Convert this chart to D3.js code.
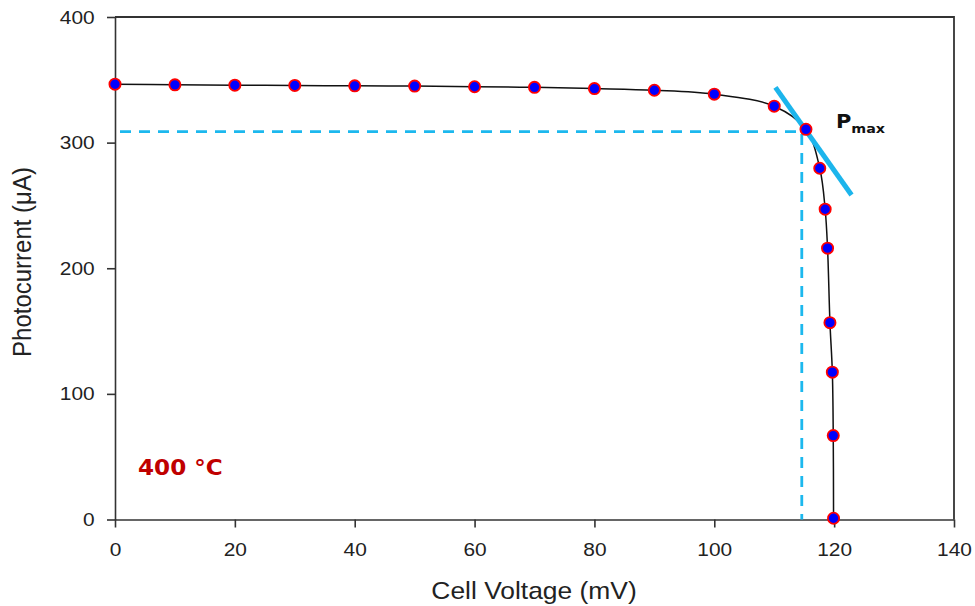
<!DOCTYPE html>
<html>
<head>
<meta charset="utf-8">
<title>Photocurrent vs cell voltage</title>
<style>
body, html {
  margin: 0;
  background: white;
}
svg {
  display: block;
}
.axis path, .axis line {
  stroke: #333;
  stroke-width: 1.6px;
}
.axis text {
  font-family: "Liberation Sans", Arial, sans-serif;
  font-size: 19px;
  fill: #222;
}
.title {
  font-family: "Liberation Sans", Arial, sans-serif;
  font-size: 24px;
  fill: #222;
}
</style>
</head>
<body>
<script src="https://cdn.jsdelivr.net/npm/d3@7"></script>
<script>
// measured points (mV, µA)
var voltage = [0, 10, 20, 30, 40, 50, 60, 70, 80, 90, 100, 110, 115.3, 117.6, 118.5, 118.9, 119.3, 119.7, 119.85, 119.9];
var current = [346.5, 346, 345.7, 345.5, 345.2, 345, 344.5, 344, 343, 341.7, 338.6, 329, 310.6, 279.6, 247, 216, 156.7, 117.3, 66.8, 1];

var xTicks = [0, 20, 40, 60, 80, 100, 120, 140];
var yTicks = [0, 100, 200, 300, 400];

// max power point guide lines and tangent
var pmaxV = 114.6, pmaxI = 308.7;
var tangentV = [110.2, 122.9];
var tangentI = [344, 258.3];

var width = 975, height = 606;
var stretch = 1.1; // text in the original is a bit wide

var svg = d3.select("body").append("svg")
    .attr("width", width)
    .attr("height", height);

var x = d3.scaleLinear().domain([0, 140]).range([115, 954]);
var y = d3.scaleLinear().domain([0, 400]).range([519.5, 17]);

// frame (top + right)
svg.append("path")
    .attr("d", "M" + x(0) + "," + y(400) + "H" + x(140) + "V" + y(0))
    .attr("fill", "none")
    .attr("stroke", "#333")
    .attr("stroke-width", 1.8);

var xAxis = svg.append("g")
    .attr("class", "axis")
    .attr("transform", "translate(0," + y(0) + ")")
    .call(d3.axisBottom(x).tickValues(xTicks).tickSize(8).tickSizeOuter(0).tickPadding(15));

var yAxis = svg.append("g")
    .attr("class", "axis")
    .attr("transform", "translate(" + x(0) + ",0)")
    .call(d3.axisLeft(y).tickValues(yTicks).tickSize(8).tickSizeOuter(0).tickPadding(10.5));

svg.selectAll(".axis text").attr("transform", "scale(" + stretch + ",1)");

// dashed guides to Pmax
svg.append("path")
    .attr("d", "M" + (x(0) + 5) + "," + y(pmaxI) + "H" + x(pmaxV) + "V" + y(0))
    .attr("fill", "none")
    .attr("stroke", "#1cb8ee")
    .attr("stroke-width", 2.8)
    .attr("stroke-dasharray", "11,8");

var pts = voltage.map(function(v, i) { return [v, current[i]]; });

var line = d3.line()
    .x(function(d) { return x(d[0]); })
    .y(function(d) { return y(d[1]); })
    .curve(d3.curveCatmullRom.alpha(0.5));

svg.append("path")
    .datum(pts)
    .attr("d", line)
    .attr("fill", "none")
    .attr("stroke", "#111")
    .attr("stroke-width", 1.5);

// tangent at Pmax
svg.append("line")
    .attr("x1", x(tangentV[0])).attr("y1", y(tangentI[0]))
    .attr("x2", x(tangentV[1])).attr("y2", y(tangentI[1]))
    .attr("stroke", "#1cb5ec")
    .attr("stroke-width", 5);

svg.append("g").selectAll("circle")
    .data(pts)
  .enter().append("circle")
    .attr("cx", function(d) { return x(d[0]); })
    .attr("cy", function(d) { return y(d[1]); })
    .attr("r", 5.6)
    .attr("fill", "#0000ff")
    .attr("stroke", "#ff0000")
    .attr("stroke-width", 1.8);

// labels
var pLabel = svg.append("text")
    .attr("transform", "translate(836,128) scale(" + stretch + ",1)")
    .style("font-family", "'DejaVu Sans', Verdana, sans-serif")
    .style("font-weight", "bold")
    .style("font-size", "19px")
    .attr("fill", "#111");
pLabel.append("tspan").text("P");
pLabel.append("tspan").attr("dy", 5).style("font-size", "13px").text("max");

svg.append("text")
    .attr("transform", "translate(138,475) scale(" + stretch + ",1)")
    .style("font-family", "'DejaVu Sans', Verdana, sans-serif")
    .style("font-weight", "bold")
    .style("font-size", "21px")
    .attr("fill", "#c00000")
    .text("400 °C");

svg.append("text")
    .attr("class", "title")
    .attr("text-anchor", "middle")
    .attr("transform", "translate(534,599) scale(" + stretch + ",1)")
    .text("Cell Voltage (mV)");

svg.append("text")
    .attr("class", "title")
    .attr("text-anchor", "middle")
    .attr("transform", "translate(31,262) scale(" + stretch + ",1) rotate(-90)")
    .text("Photocurrent (\u03bcA)");
</script>
</body>
</html>
